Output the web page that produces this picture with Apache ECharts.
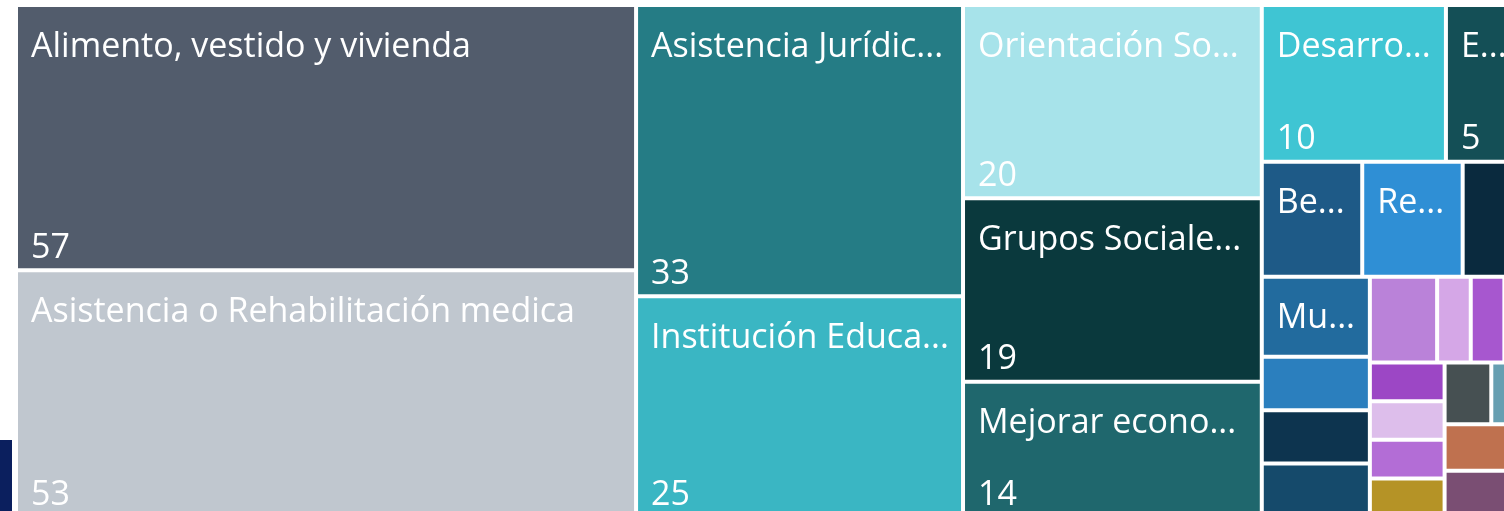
<!DOCTYPE html>
<html>
<head>
<meta charset="utf-8">
<title>Treemap</title>
<script src="https://cdn.jsdelivr.net/npm/echarts@6/dist/echarts.min.js"></script>
<style>
html, body { margin: 0; padding: 0; background: #fff; }
#main { width: 1504px; height: 511px; }
</style>
</head>
<body>
<div id="main"></div>
<script>
// categorias y conteos, ya ordenados de mayor a menor
const categories = [
    'Alimento, vestido y vivienda',
    'Asistencia o Rehabilitación medica',
    'Asistencia Jurídica y Legal',
    'Institución Educativa',
    'Orientación Sobre Trámites',
    'Grupos Sociales Vulnerables',
    'Mejorar economía familiar',
    'Desarrollo Comunitario',
    'Empleo y Capacitación',
    'Becas Escolares',
    'Recreación y Deporte',
    'Salud Mental',
    'Mujeres',
    'Adultos Mayores',
    'Discapacidad',
    'Servicios Públicos',
    'Adicciones',
    'Cultura',
    'Infancia',
    'Juventud',
    'Migrantes',
    'Pueblos Indígenas',
    'Transporte',
    'Seguridad',
    'Medio Ambiente',
    'Agua Potable',
    'Vivienda Digna',
    'Trámites',
    'Otros'
];
const values = [57, 53, 33, 25, 20, 19, 14, 10, 5, 4, 4, 3, 3, 2, 2, 2, 2,
    1, 1, 1, 1, 1, 1, 1, 1, 1, 1, 1, 1];

const tileColors = [
    '#525C6C', '#C0C7CF', '#257C85', '#3AB6C3', '#A7E3EA', '#0A393D',
    '#1F676D', '#3FC5D3', '#144F56', '#1E5A87', '#2F8FD5', '#0A2A3E',
    '#226B9E', '#2B7FBE', '#0D344F', '#154A6B', '#BA82D9', '#D5A7E7',
    '#A757CF', '#E0C3EE', '#9C47C5', '#DDBEEB', '#B36DD6', '#B59326',
    '#465052', '#679FB1', '#BF714F', '#7A4E73', '#8C8C8C'
];

const labelFont = "'Segoe UI', 'Open Sans', sans-serif";

// que etiquetas caben (se calcula despues del primer layout)
let showName = {};
let showValue = {};

function buildData(transparent) {
    return categories.map(function (name, i) {
        return {
            name: name,
            value: values[i],
            itemStyle: { color: transparent ? 'rgba(0,0,0,0)' : tileColors[i] }
        };
    });
}

function baseSeries() {
    return {
        type: 'treemap',
        left: 18,
        top: 7,
        width: 1518,
        height: 508,
        roam: false,
        nodeClick: false,
        sort: false,
        visibleMin: 0,
        breadcrumb: { show: false },
        levels: [{ itemStyle: { gapWidth: 4, borderWidth: 0 } }],
        emphasis: { disabled: true }
    };
}

function buildOption() {
    const names = Object.assign(baseSeries(), {
        data: buildData(false),
        label: {
            show: true,
            position: 'insideTopLeft',
            distance: 0,
            padding: [23, 6, 0, 13],
            fontFamily: labelFont,
            fontSize: 34,
            color: '#fff',
            textBorderWidth: 0,
            overflow: 'truncate',
            ellipsis: '...',
            formatter: function (p) {
                return showName[p.name] ? p.name : '';
            }
        }
    });
    const nums = Object.assign(baseSeries(), {
        silent: true,
        data: buildData(true),
        label: {
            show: true,
            position: 'insideBottomLeft',
            distance: 0,
            padding: [0, 6, 3, 13],
            fontFamily: labelFont,
            fontSize: 34,
            color: '#fff',
            textBorderWidth: 0,
            formatter: function (p) {
                return showValue[p.name] ? String(p.value) : '';
            }
        }
    });
    return {
        animation: false,
        backgroundColor: '#fff',
        graphic: [{
            type: 'rect',
            left: 0,
            top: 440,
            shape: { width: 12, height: 71 },
            style: { fill: '#0B1F5E' }
        }],
        series: [names, nums]
    };
}

const chart = echarts.init(document.getElementById('main'));
chart.setOption(buildOption());

// mirar el tamaño de cada cuadro para decidir si lleva texto
const tree = chart.getModel().getSeriesByIndex(0).getData().tree;
tree.root.children.forEach(function (node) {
    const lay = node.getLayout();
    if (!lay) return;
    showName[node.name] = lay.width >= 80 && lay.height >= 60;
    showValue[node.name] = lay.height >= 120;
});
chart.setOption(buildOption(), true);
</script>
</body>
</html>
